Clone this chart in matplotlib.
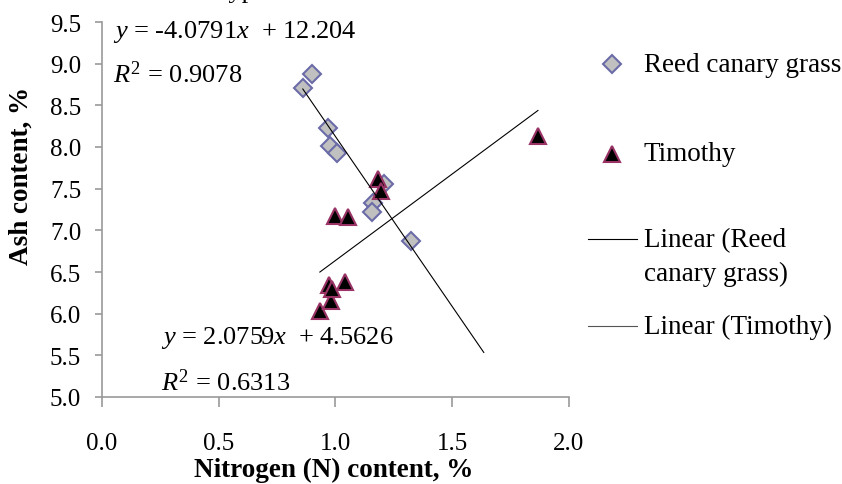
import matplotlib
matplotlib.use("Agg")
import matplotlib.pyplot as plt
import numpy as np
from matplotlib.lines import Line2D

# data
reed_n = [0.86, 0.90, 0.968, 0.976, 1.006, 1.209, 1.161, 1.157, 1.325]
reed_ash = [8.71, 8.88, 8.23, 8.01, 7.93, 7.56, 7.33, 7.22, 6.87]
timothy_n = [0.933, 0.98, 0.972, 0.985, 1.04, 1.00, 1.054, 1.183, 1.195, 1.867]
timothy_ash = [6.03, 6.15, 6.35, 6.30, 6.38, 7.17, 7.16, 7.62, 7.47, 8.13]

# trendlines as printed on the chart: slope, intercept, R2
reed_fit = (-4.0791, 12.204, 0.9078)
timothy_fit = (2.0759, 4.5626, 0.6313)
reed_forward = 0.31

x_ticks = [0.0, 0.5, 1.0, 1.5, 2.0]
y_ticks = [5.0, 5.5, 6.0, 6.5, 7.0, 7.5, 8.0, 8.5, 9.0, 9.5]

plt.rcParams["font.family"] = ["Liberation Serif", "DejaVu Serif"]
plt.rcParams["mathtext.fontset"] = "custom"
plt.rcParams["mathtext.rm"] = "Liberation Serif"
plt.rcParams["mathtext.it"] = "Liberation Serif:italic"

FS_TICK = 18
FS_EQ = 19
FS_LEG = 19.5
FS_LAB = 19.5
W, H = 842, 485
REED_STYLE = dict(marker="D", markersize=9, markerfacecolor="#C0C0C0",
                  markeredgecolor="#6B6BA8", markeredgewidth=1.5, linestyle="none")
TIM_STYLE = dict(marker="^", markersize=12, markerfacecolor="black",
                 markeredgecolor="#993366", markeredgewidth=1.5, linestyle="none")


def fx(px):
    return px / W


def fy(py):
    return 1 - py / H


fig = plt.figure(figsize=(W / 100, H / 100), dpi=100)
ax = fig.add_axes([fx(102), fy(398), (569 - 102) / W, (398 - 23) / H])

ax.plot(reed_n, reed_ash, zorder=3, **REED_STYLE)
ax.plot(timothy_n, timothy_ash, zorder=4, **TIM_STYLE)

# linear trendlines
xr = np.array([min(reed_n), max(reed_n) + reed_forward])
ax.plot(xr, reed_fit[0] * xr + reed_fit[1], color="black", lw=0.8, zorder=5)
xt = np.array([min(timothy_n), max(timothy_n)])
ax.plot(xt, timothy_fit[0] * xt + timothy_fit[1], color="black", lw=0.8, zorder=5)

ax.text(0.047, 9.39, "$y$ = %.4f$x$  + %.3f" % (reed_fit[0], reed_fit[1]),
        fontsize=FS_EQ, va="center", ha="left")
ax.text(0.047, 8.88, "$R^2$ = %.4f" % reed_fit[2], fontsize=FS_EQ, va="center", ha="left")
ax.text(0.254, 5.72, "$y$ = %.4f$x$  + %.4f" % (timothy_fit[0], timothy_fit[1]),
        fontsize=FS_EQ, va="center", ha="left")
ax.text(0.254, 5.18, "$R^2$ = %.4f" % timothy_fit[2], fontsize=FS_EQ, va="center", ha="left")

ax.set_xlim(0, 2.0)
ax.set_ylim(5.0, 9.5)
ax.set_xticks(x_ticks)
ax.set_xticklabels([f"{v:.1f}" for v in x_ticks])
ax.set_yticks(y_ticks)
ax.set_yticklabels([f"{v:.1f}" for v in y_ticks])
for s in ["top", "right"]:
    ax.spines[s].set_visible(False)
for s in ["left", "bottom"]:
    ax.spines[s].set_color("#999999")
    ax.spines[s].set_linewidth(1.2)
ax.tick_params(axis="x", direction="out", length=7, width=1.2, color="#999999",
               labelsize=FS_TICK, pad=18)
ax.tick_params(axis="y", direction="out", length=5, width=1.2, color="#999999",
               labelsize=FS_TICK, pad=10)

fig.text(fx(334), fy(470), "Nitrogen (N) content, %", fontsize=FS_LAB, fontweight="bold",
         ha="center", va="center")
fig.text(fx(21), fy(176), "Ash content, %", fontsize=FS_LAB, fontweight="bold",
         ha="center", va="center", rotation=90)

# title cut off at the top edge
fig.text(fx(222), fy(-2), "types", fontsize=FS_EQ, ha="left", va="baseline")

# legend drawn by hand
fig.add_artist(Line2D([fx(612)], [fy(65)], transform=fig.transFigure, **REED_STYLE))
fig.text(fx(644), fy(65), "Reed canary grass", fontsize=FS_LEG, va="center", ha="left")
fig.add_artist(Line2D([fx(612)], [fy(155)], transform=fig.transFigure, **TIM_STYLE))
fig.text(fx(644), fy(155), "Timothy", fontsize=FS_LEG, va="center", ha="left")
fig.add_artist(Line2D([fx(588), fx(637)], [fy(240), fy(240)], transform=fig.transFigure,
                      color="black", lw=0.8))
fig.text(fx(644), fy(257.5), "Linear (Reed\ncanary grass)", fontsize=FS_LEG, va="center",
         ha="left", linespacing=1.45)
fig.add_artist(Line2D([fx(588), fx(637)], [fy(327), fy(327)], transform=fig.transFigure,
                      color="#555555", lw=0.8))
fig.text(fx(644), fy(327), "Linear (Timothy)", fontsize=FS_LEG, va="center", ha="left")

fig.savefig("out.png", dpi=100)
